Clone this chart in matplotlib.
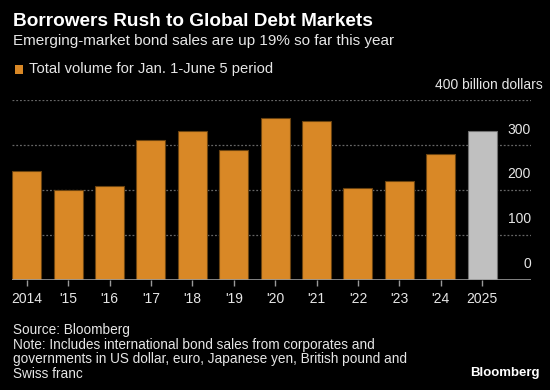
import numpy as np
import matplotlib.pyplot as plt
from matplotlib.transforms import blended_transform_factory, ScaledTranslation

# Data (billion dollars, Jan. 1 - June 5 each year)
years = ["2014", "'15", "'16", "'17", "'18", "'19", "'20", "'21", "'22", "'23", "'24", "2025"]
volume = [241, 199, 208, 311, 331, 289, 359, 354, 205, 219, 279, 332]
y_ticks = [0, 100, 200, 300, 400]
y_labels = ["0", "100", "200", "300", "400 billion dollars"]

orange = "#D98826"
gray_bar = "#C0C0C0"
text_col = "#E6E6E6"

plt.rcParams['font.family'] = ['Liberation Sans', 'DejaVu Sans']

fig = plt.figure(figsize=(5.5, 3.9), dpi=100, facecolor="black")
W, H = 550, 390

def fy(px):
    return 1 - px / H

ax = fig.add_axes([12.3 / W, fy(279.5), (531 - 12.3) / W, (279.5 - 100) / H])
ax.set_facecolor("black")

x = np.arange(len(years))
colors = [orange] * (len(years) - 1) + [gray_bar]
edges = ["#6b4310"] * (len(years) - 1) + ["#707070"]
ax.bar(x, volume, width=0.7, color=colors, edgecolor=edges, linewidth=0.8, zorder=3)

ax.set_xlim(-0.35, 12.18)
ax.set_ylim(0, 400)

# dotted gridlines
for v in y_ticks[1:]:
    ax.axhline(v, color="#666666", linestyle=(0, (1.5, 1.5)), linewidth=0.9, zorder=1)
ax.axhline(0, color="#9a9a9a", linewidth=1.2, zorder=4)

for s in ax.spines.values():
    s.set_visible(False)

ax.set_yticks([])
ax.set_xticks(x)
ax.set_xticklabels(years)
ax.tick_params(axis="x", colors="#9a9a9a", length=4, width=1.0, pad=5,
               labelcolor=text_col, labelsize=10)

# y labels sit inside the plot, above each gridline
trans = blended_transform_factory(ax.transAxes, ax.transData)
for v, lab in zip(y_ticks, y_labels):
    dx = 12 / 72 if v == 400 else 0
    t = trans + ScaledTranslation(dx * 0.72, 6 / 72, fig.dpi_scale_trans)
    ax.text(1.0, v, lab, transform=t, ha="right", va="bottom",
            color=text_col, fontsize=10)

# titles
fig.text(13 / W, fy(26.5), "Borrowers Rush to Global Debt Markets", color="white",
         fontsize=13.7, fontweight="bold", va="baseline", ha="left")
fig.text(13 / W, fy(45), "Emerging-market bond sales are up 19% so far this year",
         color=text_col, fontsize=11, va="baseline", ha="left")

# legend
fig.patches.append(plt.Rectangle((14.5 / W, fy(74)), 8.5 / W, 9 / H, transform=fig.transFigure,
                                 facecolor=orange, edgecolor="none"))
fig.text(29 / W, fy(73.5), "Total volume for Jan. 1-June 5 period", color=text_col,
         fontsize=10.6, va="baseline", ha="left")

# footer
footer = ["Source: Bloomberg",
          "Note: Includes international bond sales from corporates and",
          "governments in US dollar, euro, Japanese yen, British pound and",
          "Swiss franc"]
for i, line in enumerate(footer):
    fig.text(13 / W, fy(334 + 14.6 * i), line, color=text_col, fontsize=9.8,
             va="baseline", ha="left")
fig.text(540 / W, fy(376), "Bloomberg", color="white", fontsize=9.5,
         fontweight="bold", va="baseline", ha="right")

fig.savefig("out.png", dpi=100, facecolor="black")
